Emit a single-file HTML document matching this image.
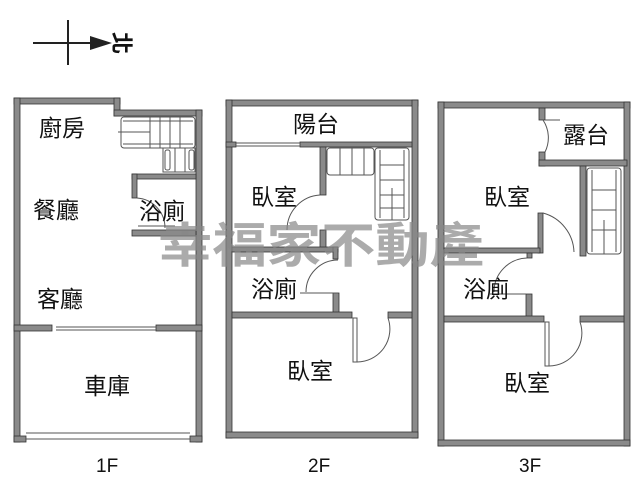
<!DOCTYPE html>
<html><head><meta charset="utf-8"><style>
html,body{margin:0;padding:0;background:#fff;width:640px;height:480px;overflow:hidden}
svg{display:block}
text{font-family:"Liberation Sans","Noto Sans CJK TC",sans-serif;fill:#111}
</style></head><body>
<svg width="640" height="480" viewBox="0 0 640 480">
<rect width="640" height="480" fill="#fff"/>
<line x1="33" y1="43" x2="95" y2="43" stroke="#222" stroke-width="2"/>
<line x1="68" y1="20" x2="68" y2="65" stroke="#222" stroke-width="2"/>
<polygon points="90,36 112,43 90,50" fill="#222"/>
<text x="0" y="0" font-size="22" font-weight="bold" transform="translate(122,43) rotate(90)" text-anchor="middle" dy="8">北</text>

<g fill="#8a8a8a" stroke="#333" stroke-width="0.8">
<rect x="14" y="98" width="106" height="6"/>
<rect x="114" y="98" width="6" height="18"/>
<rect x="114" y="110" width="88" height="6"/>
<rect x="14" y="98" width="6" height="344"/>
<rect x="196" y="110" width="6" height="332"/>
<rect x="14" y="436" width="12" height="6"/>
<rect x="190" y="436" width="12" height="6"/>
<rect x="14" y="325" width="38" height="6"/>
<rect x="156" y="325" width="46" height="6"/>
<rect x="132" y="174" width="64" height="5"/>
<rect x="132" y="174" width="5" height="24"/>
<rect x="132" y="230" width="64" height="6"/>
<rect x="226" y="100" width="192" height="6"/>
<rect x="226" y="100" width="6" height="338"/>
<rect x="412" y="100" width="6" height="338"/>
<rect x="226" y="432" width="192" height="6"/>
<rect x="226" y="142" width="10" height="5"/>
<rect x="300" y="142" width="112" height="5"/>
<rect x="320" y="147" width="6" height="48"/>
<rect x="320" y="230" width="6" height="18"/>
<rect x="232" y="247" width="106" height="5"/>
<rect x="333" y="247" width="5" height="12"/>
<rect x="333" y="293" width="6" height="22"/>
<rect x="232" y="312" width="120" height="6"/>
<rect x="388" y="312" width="24" height="6"/>
<rect x="438" y="102" width="192" height="6"/>
<rect x="438" y="102" width="6" height="344"/>
<rect x="624" y="102" width="6" height="344"/>
<rect x="438" y="440" width="192" height="6"/>
<rect x="539" y="108" width="6" height="12"/>
<rect x="539" y="152" width="6" height="14"/>
<rect x="539" y="160" width="88" height="6"/>
<rect x="580" y="166" width="6" height="90"/>
<rect x="538" y="213" width="5" height="40"/>
<rect x="444" y="248" width="96" height="5"/>
<rect x="527" y="253" width="5" height="5"/>
<rect x="526" y="294" width="6" height="25"/>
<rect x="444" y="316" width="100" height="6"/>
<rect x="580" y="316" width="44" height="6"/>
</g>

<g fill="none" stroke="#555" stroke-width="1">
<rect x="121" y="117" width="74" height="31" rx="3"/>
<line x1="123" y1="121" x2="193" y2="121"/><line x1="123" y1="144" x2="193" y2="144"/>
<line x1="150" y1="117" x2="150" y2="148"/><line x1="160" y1="117" x2="160" y2="148"/><line x1="170" y1="117" x2="170" y2="148"/><line x1="180" y1="117" x2="180" y2="148"/>
<line x1="118" y1="132" x2="150" y2="132"/>
<rect x="163" y="148" width="32" height="24"/>
<line x1="175" y1="148" x2="175" y2="172"/><line x1="185" y1="148" x2="185" y2="172"/>
<rect x="165" y="150" width="5" height="20" rx="2"/><rect x="189" y="150" width="5" height="20" rx="2"/>
<path d="M137 198 A30 30 0 0 1 165 228"/>
<line x1="138" y1="226" x2="175" y2="226"/>
<line x1="56" y1="327" x2="156" y2="327"/><line x1="56" y1="330" x2="156" y2="330"/>
<line x1="26" y1="433" x2="190" y2="433"/><line x1="26" y1="439" x2="190" y2="439"/>
<line x1="236" y1="143" x2="300" y2="143"/><line x1="236" y1="146" x2="300" y2="146"/>
<rect x="327" y="148" width="47" height="27" rx="3"/>
<line x1="340" y1="148" x2="340" y2="175"/><line x1="352" y1="148" x2="352" y2="175"/><line x1="364" y1="148" x2="364" y2="175"/>
<rect x="375" y="148" width="34" height="72" rx="3"/>
<line x1="380" y1="150" x2="380" y2="218"/><line x1="404" y1="150" x2="404" y2="218"/>
<line x1="380" y1="165" x2="404" y2="165"/><line x1="380" y1="180" x2="404" y2="180"/><line x1="380" y1="195" x2="404" y2="195"/><line x1="380" y1="208" x2="404" y2="208"/>
<line x1="392" y1="188" x2="392" y2="220"/>
<path d="M320 195 A35 35 0 0 0 287 230"/>
<path d="M338 260 A32 32 0 0 0 306 292"/>
<line x1="300" y1="293" x2="338" y2="293"/>
<rect x="353" y="318" width="4" height="44"/>
<path d="M357 362 A33 33 0 0 0 388 318"/>
<path d="M543 120 A32 32 0 0 1 545 152"/>
<line x1="545" y1="120" x2="560" y2="120"/>
<rect x="587" y="168" width="34" height="86" rx="3"/>
<line x1="592" y1="170" x2="592" y2="252"/><line x1="616" y1="170" x2="616" y2="252"/>
<line x1="592" y1="190" x2="616" y2="190"/><line x1="592" y1="210" x2="616" y2="210"/><line x1="592" y1="230" x2="616" y2="230"/>
<line x1="604" y1="220" x2="604" y2="254"/>
<path d="M543 213 A42 42 0 0 1 574 252"/>
<path d="M527 258 A34 34 0 0 0 494 292"/>
<line x1="490" y1="294" x2="526" y2="294"/>
<rect x="545" y="322" width="4" height="44"/>
<path d="M549 366 A33 33 0 0 0 580 322"/>
</g>

<g font-size="23">
<text x="39" y="136">廚房</text>
<text x="33" y="218">餐廳</text>
<text x="139" y="219">浴廁</text>
<text x="37" y="307">客廳</text>
<text x="84" y="394">車庫</text>
<text x="293" y="132">陽台</text>
<text x="251" y="205">臥室</text>
<text x="251" y="297">浴廁</text>
<text x="287" y="379">臥室</text>
<text x="563" y="143">露台</text>
<text x="484" y="205">臥室</text>
<text x="463" y="297">浴廁</text>
<text x="504" y="391">臥室</text>
</g>
<g font-size="19">
<text x="96" y="472">1F</text>
<text x="308" y="472">2F</text>
<text x="519" y="472">3F</text>
</g>
<text x="158" y="262" font-size="48" font-weight="bold" style="fill:#888;opacity:0.7" textLength="326" lengthAdjust="spacingAndGlyphs">幸福家不動產</text>
</svg>
</body></html>
